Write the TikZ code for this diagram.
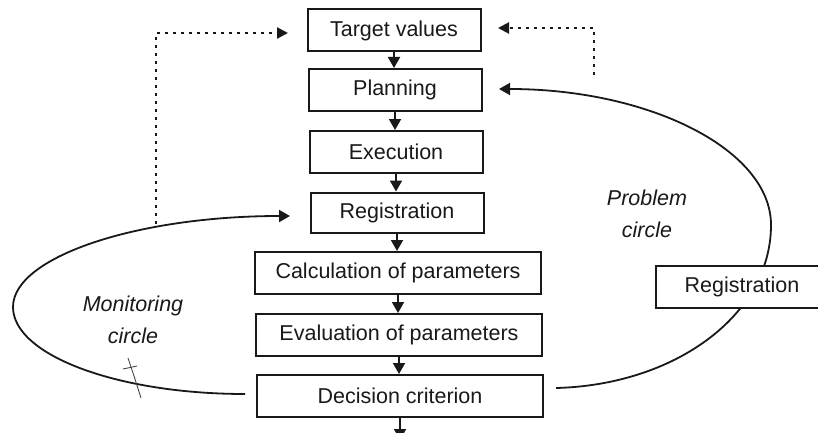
\documentclass[tikz,border=0pt]{standalone}
\usepackage{fontspec}
\setmainfont{Liberation Sans}
\usetikzlibrary{arrows.meta,calc}
\definecolor{inkc}{RGB}{25,25,25}
\begin{document}
\begin{tikzpicture}[x=1pt,y=-1pt,
  box/.style={draw=inkc, line width=2pt, minimum height=42pt, inner sep=0pt,
    font=\fontsize{21.5}{25}\selectfont, text=inkc, fill=white},
  smallbox/.style={box, minimum width=173pt},
  bigbox/.style={box, minimum width=286pt},
  arr/.style={draw=inkc, line width=1.8pt, -{Triangle[length=11pt,width=12pt]}},
  dots/.style={draw=inkc, line width=2.2pt, dash pattern=on 3pt off 5pt,
    -{Triangle[length=11pt,width=11pt]}},
  lbl/.style={font=\fontsize{21.5}{32}\selectfont\itshape, align=center, text=inkc},
  pen/.style={draw=inkc!80, line width=0.9pt}
]
\useasboundingbox (0,0) rectangle (818,433);
\fill[white] (0,0) rectangle (818,433);
\clip (0,0) rectangle (818,433);

% main column
\node[smallbox] (tv) at (394,30.5) {Target values};
\node[smallbox] (pl) at (395,90) {Planning};
\node[smallbox] (ex) at (396,152) {Execution};
\node[smallbox, minimum height=40pt] (rg) at (397,212.5) {Registration};
\node[bigbox] (ca) at (398,273) {Calculation of parameters};
\node[bigbox] (ev) at (399,335) {Evaluation of parameters};
\node[bigbox] (dc) at (400,396) {Decision criterion};

% labels
\node[lbl] (prob) at (647,214) {Problem\\circle};
\node[lbl] (mon) at (133,320) {Monitoring\\circle};

% straight arrows
\draw[arr] (tv.south) -- (tv.south |- pl.north);
\draw[arr] (pl.south) -- (pl.south |- ex.north);
\draw[arr] (ex.south) -- (ex.south |- rg.north);
\draw[arr] (rg.south) -- (rg.south |- ca.north);
\draw[arr] (ca.south) -- (ca.south |- ev.north);
\draw[arr] (ev.south) -- (ev.south |- dc.north);
\coordinate (out) at (400,440);
\draw[arr] (dc.south) -- (dc.south |- out);

% problem circle
\coordinate (ps) at (556,388);
\coordinate (pm) at (771,225);
\coordinate (pe) at (499,89);
\draw[arr] (ps) .. controls (675,385) and (771,315) .. (pm)
               .. controls (771,150) and (650,89) .. (pe);
% registration box on top of the problem circle
\node[box, minimum width=172pt] (rr) at (742,287) {Registration};

% monitoring circle
\coordinate (ms) at (245,394);
\coordinate (mm) at (13,307);
\coordinate (me) at (290,216);
\draw[arr] (ms) .. controls (117,394) and (13,355) .. (mm)
               .. controls (13,257) and (137,216) .. (me);

% dotted feedback lines
\coordinate (dl0) at (156,224);
\coordinate (dl1) at (156,33);
\coordinate (dle) at (288,33);
\draw[dots] (dl0) -- (dl1) -- (dle);
\coordinate (dr0) at (594,75);
\coordinate (dr1) at (594,28);
\coordinate (dre) at (498,28);
\draw[dots] (dr0) -- (dr1) -- (dre);

% pen mark on the monitoring curve
\draw[pen] (128,358) -- (134,376) -- (141,398);
\draw[pen] (123,369) -- (137,366);
\end{tikzpicture}
\end{document}
